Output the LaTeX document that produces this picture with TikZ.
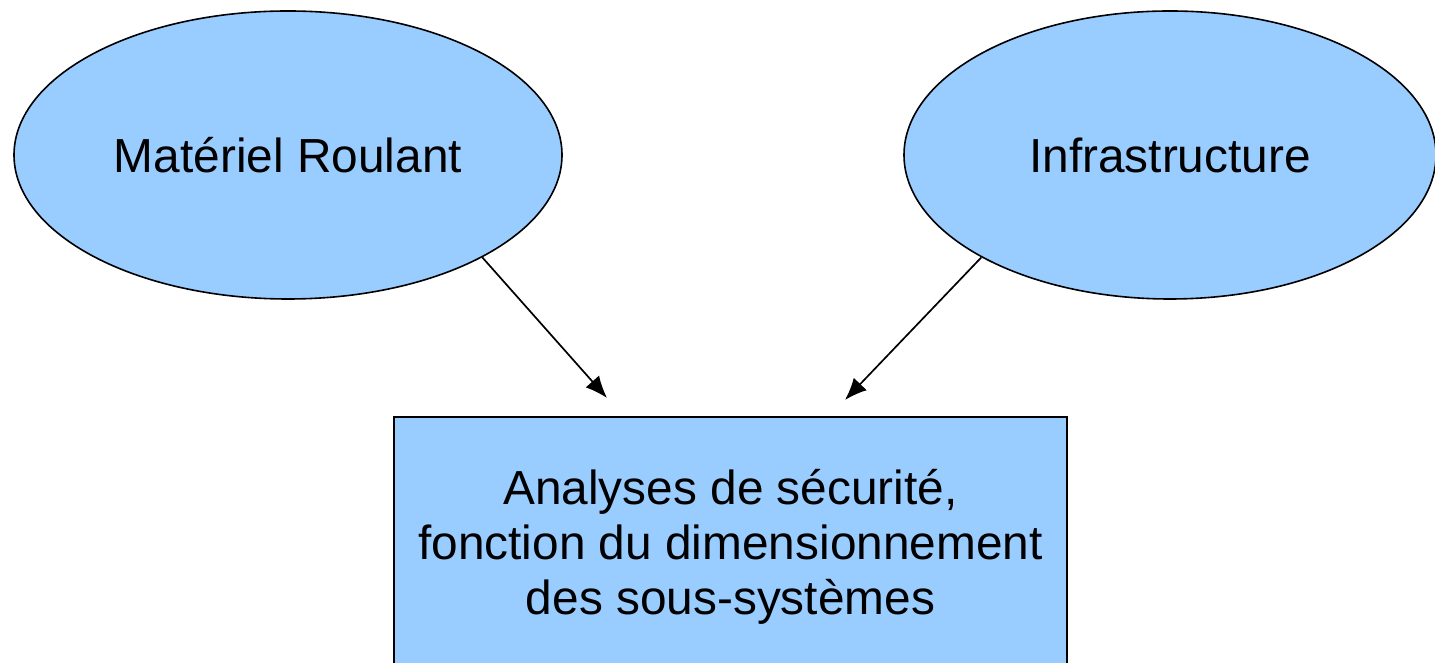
\documentclass[tikz,border=0pt]{standalone}
\usepackage{fontspec}
\setmainfont{Liberation Sans}
\usetikzlibrary{shapes.geometric,arrows.meta}
\definecolor{boxblue}{HTML}{99CCFF}
\tikzset{
  subsys/.style={ellipse, draw, fill=boxblue, line width=0.8pt, inner sep=0pt,
    minimum width=274pt, minimum height=144pt, font=\fontsize{23.9}{29}\selectfont},
  result/.style={rectangle, draw, fill=boxblue, line width=0.8pt, inner sep=0pt,
    minimum width=336.5pt, minimum height=130pt, align=center,
    font=\fontsize{23.9}{27.5}\selectfont},
  link/.style={-{Latex[length=11pt,width=9pt]}, line width=0.85pt}
}
\begin{document}
\begin{tikzpicture}[x=0.5pt,y=0.5pt]
    \clip (0,0) rectangle (1435,663);
    \fill[white] (0,0) rectangle (1435,663);

    %Sous-systemes
    \node[subsys] (Materiel) at (288,508) {Mat\'eriel Roulant};
    \node[subsys, minimum width=266pt] (Infra) at (1170,508) {Infrastructure};

    %Analyses
    \node[result] (Analyses) at (730.5,116)
    {Analyses de s\'ecurit\'e,\\fonction du dimensionnement\\des sous-syst\`emes};

    \coordinate (TipMateriel) at (607,265);
    \coordinate (TipInfra) at (845,263);
    \draw[link] (Materiel.south east) -- (TipMateriel);
    \draw[link] (Infra.south west) -- (TipInfra);
  \end{tikzpicture}
\end{document}
